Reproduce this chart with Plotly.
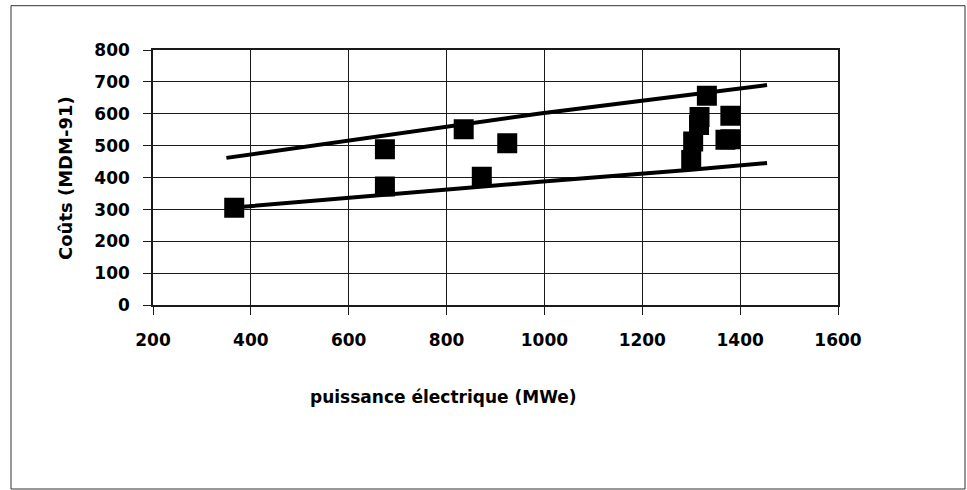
import plotly.graph_objects as go

# Data
power_mwe = [366, 674, 674, 835, 872, 924, 1300, 1304, 1316, 1317, 1332, 1370, 1380, 1380]
cost_mdm91 = [306, 372, 489, 552, 403, 508, 455, 513, 565, 590, 657, 519, 520, 594]

upper_x = [350, 400, 582, 700, 991, 1277, 1455]
upper_y = [462, 473, 513, 537, 601, 656, 690]

lower_x = [370, 582, 991, 1300, 1455]
lower_y = [307, 335, 387, 425, 446]

x_title = "puissance électrique (MWe)"
y_title = "Coûts (MDM-91)"

W, H = 967, 490
FONT = "DejaVu Sans"

fig = go.Figure()
fig.add_trace(go.Scatter(x=upper_x, y=upper_y, mode="lines",
                         line=dict(color="black", width=4), showlegend=False))
fig.add_trace(go.Scatter(x=lower_x, y=lower_y, mode="lines",
                         line=dict(color="black", width=4), showlegend=False))
fig.add_trace(go.Scatter(x=power_mwe, y=cost_mdm91, mode="markers",
                         marker=dict(symbol="square", size=20, color="black",
                                     line=dict(width=0)),
                         showlegend=False))

axis_common = dict(showgrid=True, gridcolor="#1a1a1a", gridwidth=1,
                   showline=True, linecolor="#1a1a1a", linewidth=1.5, mirror=True,
                   ticks="outside", ticklen=8, tickcolor="#1a1a1a", tickwidth=1,
                   zeroline=False, automargin=False,
                   tickfont=dict(family=FONT, size=17, color="black", weight="bold"))

fig.update_layout(
    template="none",
    width=W, height=H,
    margin=dict(l=0, r=0, t=0, b=0, autoexpand=False),
    paper_bgcolor="white", plot_bgcolor="white",
    xaxis=dict(range=[200, 1600], dtick=200, tick0=200,
               domain=[153 / W, 838 / W], ticklabelstandoff=11, **axis_common),
    yaxis=dict(range=[0, 800], dtick=100, tick0=0,
               domain=[1 - 305.3 / H, 1 - 50 / H], ticklabelstandoff=10, **axis_common),
    annotations=[
        dict(text=x_title, x=443 / W, y=1 - 397 / H, xref="paper", yref="paper",
             showarrow=False, xanchor="center", yanchor="middle",
             font=dict(family=FONT, size=17, color="black", weight="bold")),
        dict(text=y_title, x=65 / W, y=1 - 178 / H, xref="paper", yref="paper",
             showarrow=False, xanchor="center", yanchor="middle", textangle=-90,
             font=dict(family=FONT, size=18, color="black", weight="bold")),
    ],
    shapes=[
        dict(type="rect", xref="paper", yref="paper",
             x0=11 / W, x1=965 / W, y0=1 - 489 / H, y1=1 - 5.7 / H,
             line=dict(color="#333333", width=1)),
    ],
)

fig.write_html(
    "out.html",
    config={"displayModeBar": False},
    post_script="document.body.style.margin='0';document.body.style.overflow='hidden';",
)
